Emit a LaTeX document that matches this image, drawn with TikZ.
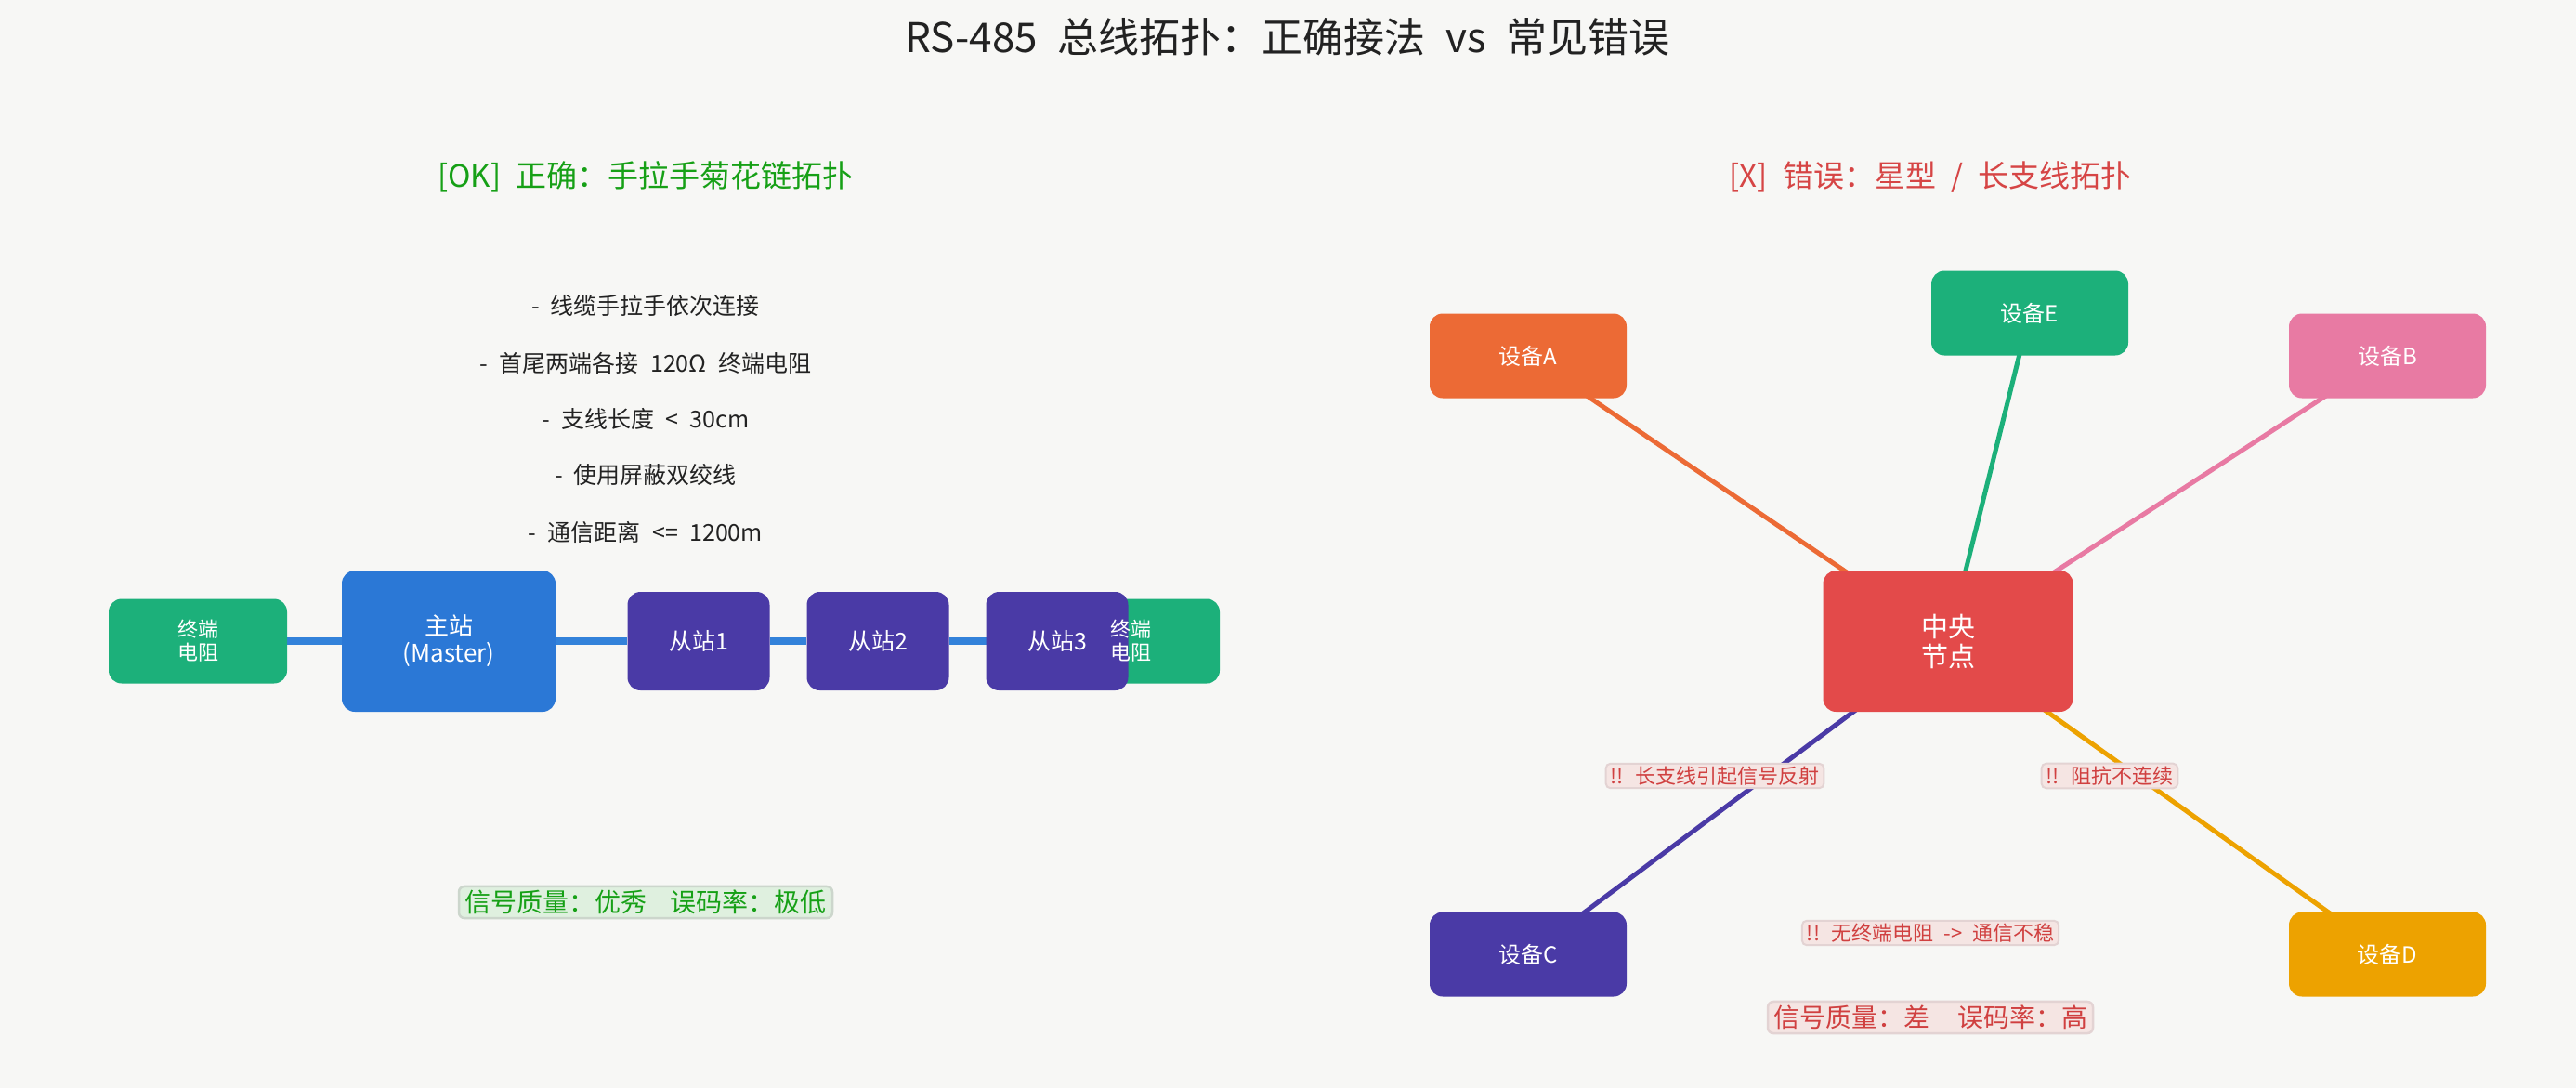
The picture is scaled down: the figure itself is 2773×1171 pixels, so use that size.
\documentclass[tikz,border=0pt]{standalone}
\usepackage{fontspec}
\setmainfont{Noto Sans CJK SC}[WordSpace=2.2]
\definecolor{bgc}{HTML}{F7F7F5}
\definecolor{titlec}{HTML}{222222}
\definecolor{okgreen}{HTML}{16A016}
\definecolor{errred}{HTML}{D64545}
\definecolor{resgreen}{HTML}{1CB07A}
\definecolor{masterblue}{HTML}{2B78D6}
\definecolor{buslue}{HTML}{3382DA}
\definecolor{slavepurple}{HTML}{4A3AA6}
\definecolor{orangeA}{HTML}{EC6A35}
\definecolor{pinkB}{HTML}{E87AA3}
\definecolor{goldD}{HTML}{EDA200}
\definecolor{centralred}{HTML}{E34A4A}
\definecolor{okfill}{HTML}{DFF0DF}
\definecolor{okborder}{HTML}{CCD6CC}
\definecolor{warnfill}{HTML}{F5E5E3}
\definecolor{warnborder}{HTML}{E3D3D3}
\definecolor{warntext}{HTML}{D04040}
\pgfdeclarelayer{bglayer}
\pgfdeclarelayer{edgelayer}
\pgfsetlayers{bglayer,edgelayer,main}
\tikzset{
  box/.style={rounded corners=14pt, inner sep=0pt, text=white, align=center},
  resbox/.style={box, fill=resgreen, minimum width=192pt, minimum height=91pt, font=\fontsize{22}{25}\selectfont},
  slavebox/.style={box, fill=slavepurple, minimum width=153pt, minimum height=106pt, font=\fontsize{25}{28}\selectfont},
  devbox/.style={box, minimum width=212pt, minimum height=91pt, font=\fontsize{24}{27}\selectfont},
  bullet/.style={text=titlec, font=\fontsize{25}{28}\selectfont},
  warnlabel/.style={fill=warnfill, draw=warnborder, line width=2pt, rounded corners=5pt, text=warntext, inner xsep=5pt, inner ysep=3pt, font=\fontsize{22}{24}\selectfont},
  quality/.style={line width=2.5pt, rounded corners=6pt, inner xsep=6pt, inner ysep=4pt, font=\fontsize{28}{30}\selectfont},
  busline/.style={draw=buslue, line width=8pt},
  starline/.style={line width=5pt},
}
\begin{document}
\begin{tikzpicture}[x=1pt,y=-1pt]
\begin{pgfonlayer}{bglayer}
\fill[bgc] (0,0) rectangle (2773,1171);
\end{pgfonlayer}
\useasboundingbox (0,0) rectangle (2773,1171);

% title
\node[text=titlec, font=\fontsize{44}{48}\selectfont] (title) at (1386,40) {RS-485 总线拓扑：正确接法 vs 常见错误};

% left panel
\node[text=okgreen, font=\fontsize{33}{36}\selectfont] (oktitle) at (695,190) {[OK] 正确：手拉手菊花链拓扑};
\node[bullet] (b1) at (695,329) {- 线缆手拉手依次连接};
\node[bullet] (b2) at (695,391) {- 首尾两端各接 120Ω 终端电阻};
\node[bullet] (b3) at (695,451) {- 支线长度 < 30cm};
\node[bullet] (b4) at (695,511) {- 使用屏蔽双绞线};
\node[bullet] (b5) at (695,573) {- 通信距离 <= 1200m};

\node[resbox] (resL) at (213,690) {终端\\电阻};
\node[box, fill=masterblue, minimum width=230pt, minimum height=152pt, font=\fontsize{26}{29}\selectfont] (master) at (483,690) {主站\\(Master)};
\node[slavebox] (s1) at (752,690) {从站1};
\node[slavebox] (s2) at (945,690) {从站2};
\node[resbox] (resR) at (1217,690) {};
\node[slavebox] (s3) at (1138,690) {从站3};
\node[text=white, align=center, font=\fontsize{22}{25}\selectfont] (resRtext) at (resR.center) {终端\\电阻};

\begin{pgfonlayer}{edgelayer}
\draw[busline] (resL) -- (master) -- (s1) -- (s2) -- (s3) -- (resR);
\end{pgfonlayer}

\node[quality, fill=okfill, draw=okborder, text=okgreen] (okq) at (695,971) {信号质量：优秀\hspace{26pt}误码率：极低};

% right panel
\node[text=errred, font=\fontsize{33}{36}\selectfont] (errtitle) at (2078,191) {[X] 错误：星型 / 长支线拓扑};

\node[box, fill=centralred, minimum width=269pt, minimum height=152pt, font=\fontsize{29}{32}\selectfont] (central) at (2097,690) {中央\\节点};
\node[devbox, fill=orangeA] (devA) at (1645,383) {设备A};
\node[devbox, fill=resgreen] (devE) at (2185,337) {设备E};
\node[devbox, fill=pinkB] (devB) at (2570,383) {设备B};
\node[devbox, fill=slavepurple] (devC) at (1645,1027) {设备C};
\node[devbox, fill=goldD] (devD) at (2570,1027) {设备D};

\begin{pgfonlayer}{edgelayer}
\draw[starline, orangeA] (central.center) -- (devA.center);
\draw[starline, resgreen] (central.center) -- (devE.center);
\draw[starline, pinkB] (central.center) -- (devB.center);
\draw[starline, slavepurple] (central.center) -- (devC.center);
\draw[starline, goldD] (central.center) -- (devD.center);
\end{pgfonlayer}

\node[warnlabel] (w1) at (1846,835) {!! 长支线引起信号反射};
\node[warnlabel] (w2) at (2271,835) {!! 阻抗不连续};
\node[warnlabel] (w3) at (2078,1004) {!! 无终端电阻 -> 通信不稳};
\node[quality, fill=warnfill, draw=warnborder, text=warntext] (errq) at (2078,1095) {信号质量：差\hspace{30pt}误码率：高};
\end{tikzpicture}
\end{document}
